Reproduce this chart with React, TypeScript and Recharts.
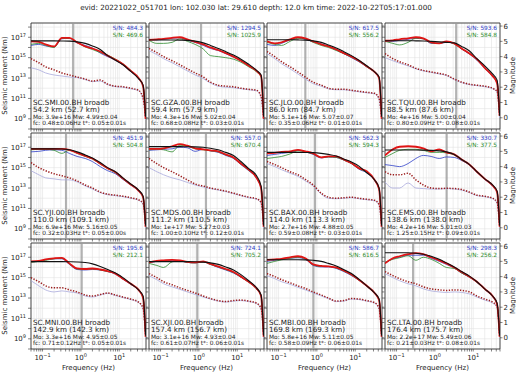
import React from 'react';
import { LineChart, Line, XAxis, YAxis, CartesianGrid, ReferenceLine, ReferenceArea } from 'recharts';

const FONT = '"DejaVu Sans", sans-serif';

const titleText = 'evid: 20221022_051701 lon: 102.030 lat: 29.610 depth: 12.0 km time: 2022-10-22T05:17:01.000';

const frequencies = [0.05, 0.08, 0.12, 0.2, 0.32, 0.5, 0.8, 1.3, 2, 3.2, 5, 8, 12.5, 20, 32, 42, 49];

const xTicks = [0.05, 0.06, 0.07, 0.08, 0.09, 0.1, 0.2, 0.3, 0.4, 0.5, 0.6, 0.7, 0.8, 0.9, 1, 2, 3, 4, 5, 6, 7, 8, 9, 10, 20, 30, 40, 50];
const xLabelExponents = [-1, 0, 1];
const momentTicks = [1e8, 1e9, 1e10, 1e11, 1e12, 1e13, 1e14, 1e15, 1e16, 1e17, 1e18];
const magnitudeTicks = [0, 1, 2, 3, 4, 5, 6];

const stationNames = [
  'SC.SMI.00.BH broadb', 'SC.GZA.00.BH broadb', 'SC.JLO.00.BH broadb', 'SC.TQU.00.BH broadb',
  'SC.YJI.00.BH broadb', 'SC.MDS.00.BH broadb', 'SC.BAX.00.BH broadb', 'SC.EMS.00.BH broadb',
  'SC.MNI.00.BH broadb', 'SC.XJI.00.BH broadb', 'SC.MBI.00.BH broadb', 'SC.LTA.00.BH broadb',
];
const distances = [
  '54.2 km (52.7 km)', '59.4 km (57.9 km)', '86.0 km (84.7 km)', '88.5 km (87.6 km)',
  '110.0 km (109.1 km)', '111.2 km (110.5 km)', '114.0 km (113.3 km)', '138.6 km (138.0 km)',
  '142.9 km (142.3 km)', '157.4 km (156.7 km)', '169.8 km (169.3 km)', '176.4 km (175.7 km)',
];
const momentLines = [
  'Mo: 3.9e+16 Mw: 4.99±0.04', 'Mo: 4.3e+16 Mw: 5.02±0.04', 'Mo: 5.1e+16 Mw: 5.07±0.07', 'Mo: 4e+16 Mw: 5.00±0.04',
  'Mo: 6.9e+16 Mw: 5.16±0.05', 'Mo: 1e+17 Mw: 5.27±0.03', 'Mo: 2.7e+16 Mw: 4.88±0.05', 'Mo: 4.2e+16 Mw: 5.01±0.03',
  'Mo: 3.3e+16 Mw: 4.95±0.05', 'Mo: 3.1e+16 Mw: 4.93±0.04', 'Mo: 5.8e+16 Mw: 5.11±0.05', 'Mo: 2.2e+17 Mw: 5.49±0.06',
];
const cornerLines = [
  'fc: 0.48±0.06Hz t*: 0.05±0.01s', 'fc: 0.68±0.08Hz t*: 0.03±0.01s', 'fc: 0.35±0.06Hz t*: 0.01±0.01s', 'fc: 0.80±0.09Hz t*: 0.08±0.01s',
  'fc: 0.32±0.03Hz t*: 0.05±0.00s', 'fc: 1.00±0.10Hz t*: 0.12±0.01s', 'fc: 0.59±0.08Hz t*: 0.03±0.01s', 'fc: 1.25±0.15Hz t*: 0.09±0.01s',
  'fc: 0.71±0.12Hz t*: 0.05±0.01s', 'fc: 0.61±0.07Hz t*: 0.06±0.01s', 'fc: 0.58±0.09Hz t*: 0.06±0.01s', 'fc: 0.21±0.03Hz t*: 0.08±0.01s',
];
const snrBlue = ['484.3', '1294.5', '617.5', '593.6', '451.9', '557.0', '562.3', '330.7', '195.6', '724.1', '586.7', '298.3'];
const snrGreen = ['469.6', '1025.9', '556.2', '584.8', '504.8', '670.4', '594.3', '377.5', '212.1', '705.2', '616.5', '256.2'];
const markerFreqs = [0.63, 1.14, 0.5, 3.6, 0.41, 1.53, 0.89, 2.03, 1.05, 0.91, 0.81, 0.27];

// log10 of seismic moment (Nm) at each frequency
const modelLog = [
  [16.65, 16.65, 16.65, 16.65, 16.64, 16.62, 16.55, 16.4, 16.15, 15.8, 15.2, 14.75, 14.3, 13.65, 12.95, 12.3, 9.2],
  [16.73, 16.73, 16.73, 16.73, 16.72, 16.7, 16.62, 16.45, 16.2, 15.9, 15.6, 15.25, 14.85, 14.35, 13.75, 13.3, 9.2],
  [16.75, 16.75, 16.75, 16.75, 16.74, 16.72, 16.65, 16.5, 16.25, 15.95, 15.6, 15.2, 14.75, 14.2, 13.6, 13.1, 9.2],
  [16.66, 16.66, 16.66, 16.66, 16.65, 16.64, 16.6, 16.55, 16.5, 16.45, 16.1, 15.65, 14.9, 14.2, 13.4, 12.8, 9.3],
  [16.84, 16.84, 16.84, 16.84, 16.83, 16.75, 16.55, 16.25, 15.95, 15.5, 15.0, 14.6, 14.0, 13.4, 12.8, 12.2, 9.3],
  [17.06, 17.06, 17.06, 17.06, 17.06, 17.05, 17.04, 17.0, 16.9, 16.75, 16.5, 16.2, 15.6, 14.9, 14.2, 13.2, 9.3],
  [16.5, 16.5, 16.5, 16.5, 16.5, 16.49, 16.47, 16.4, 16.3, 16.15, 15.85, 15.55, 15.15, 14.5, 13.8, 13.0, 9.3],
  [16.73, 16.73, 16.73, 16.73, 16.73, 16.72, 16.7, 16.65, 16.55, 16.3, 15.8, 15.3, 14.6, 13.9, 13.3, 12.7, 9.3],
  [16.57, 16.57, 16.57, 16.57, 16.57, 16.56, 16.54, 16.48, 16.35, 16.1, 15.8, 15.45, 15.0, 14.4, 13.8, 13.2, 9.3],
  [16.57, 16.57, 16.57, 16.57, 16.57, 16.57, 16.56, 16.52, 16.45, 16.3, 16.05, 15.75, 15.3, 14.7, 14.0, 13.3, 9.3],
  [16.75, 16.75, 16.75, 16.75, 16.75, 16.74, 16.7, 16.6, 16.4, 16.15, 15.8, 15.4, 14.85, 14.2, 13.5, 12.9, 9.3],
  [17.45, 17.45, 17.45, 17.44, 17.4, 17.3, 17.1, 16.8, 16.45, 16.05, 15.6, 15.15, 14.6, 13.9, 13.2, 12.5, 9.3],
];
const signalLog = [
  [16.6, 16.55, 16.3, 16.1, 16.95, 16.95, 16.5, 16.1, 15.9, 15.6, 15.2, 14.8, 14.35, 13.7, 13.0, 12.2, 9.0],
  [16.75, 16.8, 16.85, 16.95, 17.0, 16.8, 16.55, 16.3, 16.0, 15.75, 15.45, 15.1, 14.7, 14.2, 13.7, 13.2, 9.0],
  [16.6, 16.4, 16.5, 16.8, 17.0, 16.9, 16.6, 16.3, 16.1, 15.8, 15.45, 15.1, 14.7, 14.15, 13.6, 13.0, 9.0],
  [16.66, 16.7, 16.8, 16.9, 17.0, 16.9, 16.5, 16.4, 16.6, 16.4, 15.9, 15.4, 14.85, 14.0, 13.2, 12.5, 9.3],
  [16.85, 16.85, 16.85, 16.85, 16.85, 16.75, 16.45, 16.15, 15.9, 15.4, 14.95, 14.55, 13.95, 13.35, 12.75, 12.1, 9.2],
  [16.85, 16.85, 16.9, 17.1, 17.3, 17.15, 16.9, 16.8, 16.7, 16.6, 16.3, 16.0, 15.4, 14.8, 14.0, 13.0, 9.2],
  [16.4, 16.45, 16.55, 16.6, 16.75, 16.6, 16.4, 16.0, 16.1, 16.1, 15.8, 15.45, 14.95, 14.65, 13.8, 12.9, 9.2],
  [16.2, 16.8, 17.05, 17.1, 17.05, 16.9, 16.6, 16.8, 16.5, 16.3, 15.8, 15.3, 14.6, 13.9, 13.25, 12.6, 9.2],
  [16.6, 16.65, 16.8, 16.9, 16.95, 16.4, 15.9, 15.85, 15.9, 15.8, 15.65, 15.4, 14.9, 14.4, 13.8, 13.0, 9.2],
  [16.5, 16.65, 16.7, 16.75, 16.7, 16.55, 16.5, 16.6, 16.35, 16.1, 15.85, 15.55, 15.1, 14.6, 13.95, 13.2, 9.2],
  [16.75, 16.8, 16.85, 17.0, 17.1, 16.9, 16.3, 16.15, 16.1, 16.0, 15.7, 15.3, 14.8, 14.2, 13.5, 12.8, 9.2],
  [16.4, 16.9, 17.1, 17.3, 17.4, 17.3, 17.0, 16.7, 16.4, 16.0, 15.55, 15.1, 14.6, 13.9, 13.2, 12.4, 9.2],
];
const blueCompLog = [
  [16.2, 16.3, 16.15, 16.05, 16.85, 16.9, 16.45, 16.2, 15.95, 15.45, 15.1, 14.75, 14.3, 13.65, 12.95, 12.2, 9.0],
  [16.8, 16.75, 16.8, 16.9, 16.95, 16.7, 16.5, 16.2, 15.9, 15.7, 15.4, 15.05, 14.7, 14.2, 13.7, 13.2, 9.0],
  [16.3, 16.2, 16.4, 16.75, 16.95, 16.8, 16.55, 16.35, 16.1, 15.75, 15.4, 15.0, 14.6, 14.1, 13.55, 13.0, 9.0],
  [16.6, 16.6, 16.7, 16.8, 16.9, 16.85, 16.4, 16.4, 16.5, 16.4, 15.85, 15.35, 14.75, 13.95, 13.15, 12.5, 9.3],
  [16.55, 16.6, 16.7, 16.75, 16.7, 16.4, 16.1, 15.9, 15.6, 15.1, 14.7, 14.4, 13.85, 13.3, 12.7, 12.1, 9.2],
  [16.7, 16.75, 16.8, 16.85, 17.0, 16.95, 16.6, 16.8, 16.65, 16.5, 16.2, 15.9, 15.3, 14.7, 13.95, 13.0, 9.2],
  [16.2, 16.3, 16.4, 16.5, 16.7, 16.55, 16.3, 15.95, 16.05, 16.0, 15.75, 15.4, 14.85, 14.5, 13.75, 12.9, 9.2],
  [15.3, 15.2, 15.1, 15.4, 15.9, 16.2, 16.1, 15.9, 16.05, 16.0, 15.7, 15.25, 14.55, 13.85, 13.2, 12.6, 9.2],
  [16.55, 16.6, 16.75, 16.85, 16.85, 16.3, 15.8, 15.75, 15.8, 15.75, 15.6, 15.35, 14.85, 14.35, 13.75, 13.0, 9.2],
  [16.45, 16.6, 16.65, 16.7, 16.65, 16.5, 16.45, 16.55, 16.3, 16.0, 15.75, 15.45, 15.05, 14.55, 13.9, 13.2, 9.2],
  [16.6, 16.7, 16.8, 16.9, 16.95, 16.8, 16.2, 16.05, 16.05, 15.9, 15.6, 15.2, 14.75, 14.15, 13.45, 12.8, 9.2],
  [16.4, 16.85, 17.0, 17.2, 17.2, 17.2, 16.9, 16.6, 16.3, 15.95, 15.45, 15.05, 14.55, 13.85, 13.15, 12.4, 9.2],
];
const greenCompLog = [
  [16.3, 16.4, 16.2, 16.0, 16.9, 16.9, 16.5, 16.05, 15.8, 15.5, 15.25, 14.85, 14.4, 13.75, 13.0, 12.2, 9.0],
  [16.7, 16.4, 16.4, 16.5, 16.85, 16.6, 16.3, 15.85, 15.2, 15.1, 15.0, 14.85, 14.55, 14.1, 13.6, 13.1, 9.0],
  [16.5, 16.3, 16.2, 16.6, 16.9, 16.85, 16.5, 16.2, 16.0, 15.7, 15.4, 15.05, 14.65, 14.1, 13.55, 13.0, 9.0],
  [16.6, 16.4, 16.25, 16.5, 16.9, 16.85, 16.45, 16.4, 16.55, 16.35, 15.85, 15.4, 14.8, 14.0, 13.2, 12.5, 9.3],
  [16.75, 16.8, 16.8, 16.7, 16.4, 16.7, 16.4, 16.1, 15.85, 15.35, 14.9, 14.5, 13.9, 13.35, 12.75, 12.1, 9.2],
  [16.75, 16.8, 16.75, 16.55, 17.2, 17.1, 16.85, 16.75, 16.65, 16.55, 16.25, 15.95, 15.35, 14.75, 14.0, 13.0, 9.2],
  [15.9, 16.0, 16.1, 16.35, 16.65, 16.55, 16.35, 16.0, 16.05, 16.0, 15.75, 15.4, 14.9, 14.55, 13.75, 12.9, 9.2],
  [16.0, 16.4, 16.7, 16.8, 16.8, 16.7, 16.5, 16.5, 16.45, 16.25, 15.75, 15.3, 14.6, 13.9, 13.25, 12.6, 9.2],
  [16.5, 16.6, 16.7, 16.85, 16.9, 16.35, 15.85, 15.8, 15.85, 15.75, 15.6, 15.4, 14.9, 14.4, 13.8, 13.0, 9.2],
  [16.4, 16.2, 16.0, 16.55, 16.65, 16.5, 16.45, 16.55, 16.3, 16.05, 15.8, 15.5, 15.05, 14.55, 13.9, 13.2, 9.2],
  [16.4, 16.6, 16.75, 16.9, 17.0, 16.85, 16.25, 16.1, 16.1, 15.95, 15.65, 15.25, 14.75, 14.15, 13.45, 12.8, 9.2],
  [16.5, 16.8, 16.95, 17.15, 16.7, 17.0, 16.8, 16.4, 16.0, 15.9, 15.45, 15.05, 14.55, 13.85, 13.2, 12.4, 9.2],
];
const noiseLog = [
  [14.9, 14.5, 14.1, 13.8, 13.5, 13.3, 13.1, 12.9, 12.7, 12.8, 12.4, 12.2, 12.15, 12.0, 11.8, 11.0, 9.0],
  [15.9, 15.5, 15.1, 14.7, 14.3, 13.9, 13.5, 13.1, 12.6, 12.3, 12.2, 12.15, 12.0, 11.9, 11.8, 11.2, 9.0],
  [15.6, 15.1, 14.6, 14.1, 13.6, 13.1, 12.6, 12.3, 12.0, 11.9, 11.9, 11.8, 11.7, 11.6, 11.5, 11.0, 9.0],
  [15.4, 14.9, 14.6, 14.3, 13.95, 13.75, 13.6, 13.45, 13.3, 12.9, 12.6, 12.4, 12.3, 12.2, 12.0, 11.7, 9.2],
  [15.5, 15.0, 14.7, 14.4, 14.2, 14.0, 13.7, 13.3, 13.0, 12.6, 12.4, 12.3, 12.2, 12.05, 11.85, 11.5, 9.2],
  [15.9, 15.4, 15.0, 14.6, 14.2, 13.8, 13.4, 13.2, 13.0, 12.85, 12.7, 12.5, 12.3, 12.1, 11.95, 11.6, 9.2],
  [15.6, 15.3, 15.0, 14.6, 14.3, 13.85, 13.3, 12.5, 12.1, 12.0, 12.05, 12.1, 12.0, 11.9, 11.8, 11.4, 9.2],
  [14.6, 14.3, 14.3, 14.45, 13.8, 13.3, 13.0, 12.95, 12.97, 12.95, 12.85, 12.6, 12.3, 12.2, 12.0, 11.6, 9.2],
  [15.0, 14.6, 14.2, 14.0, 14.0, 13.8, 13.6, 13.3, 13.2, 13.35, 13.5, 13.3, 13.1, 12.9, 12.6, 12.0, 9.2],
  [15.4, 15.0, 14.6, 14.3, 14.0, 13.75, 13.5, 13.2, 12.95, 12.75, 12.65, 12.75, 12.8, 12.7, 12.5, 12.0, 9.2],
  [15.4, 15.1, 14.8, 14.5, 14.2, 13.95, 13.6, 13.3, 13.0, 12.7, 12.75, 12.95, 12.9, 12.75, 12.55, 12.0, 9.2],
  [15.6, 15.2, 14.9, 14.6, 14.4, 14.1, 13.9, 13.8, 13.75, 13.8, 13.75, 13.6, 13.2, 12.9, 12.6, 12.2, 9.2],
];
const noiseCompLog = [
  [14.0, 13.8, 13.5, 13.3, 13.2, 13.1, 13.05, 12.85, 12.65, 12.7, 12.35, 12.15, 12.1, 11.95, 11.75, 10.95, 8.9],
  [15.7, 15.3, 14.9, 14.5, 14.1, 13.7, 13.3, 12.95, 12.5, 12.2, 12.1, 12.05, 11.95, 11.85, 11.75, 11.1, 8.9],
  [15.4, 14.9, 14.4, 13.9, 13.4, 12.9, 12.45, 12.2, 11.95, 11.85, 11.85, 11.75, 11.65, 11.55, 11.45, 10.9, 8.9],
  [15.0, 14.7, 14.45, 14.2, 13.9, 13.7, 13.55, 13.4, 13.25, 12.85, 12.55, 12.35, 12.25, 12.15, 11.95, 11.6, 9.1],
  [14.7, 14.3, 14.0, 13.9, 13.8, 13.8, 13.6, 13.2, 12.9, 12.55, 12.35, 12.25, 12.15, 12.0, 11.8, 11.4, 9.1],
  [15.0, 14.6, 14.3, 14.0, 13.8, 13.55, 13.3, 13.1, 12.95, 12.8, 12.65, 12.45, 12.25, 12.05, 11.9, 11.5, 9.1],
  [15.4, 15.1, 14.8, 14.45, 14.15, 13.7, 13.2, 12.4, 12.0, 11.95, 12.0, 12.05, 11.95, 11.85, 11.75, 11.3, 9.1],
  [13.6, 13.0, 13.0, 13.5, 13.0, 12.95, 12.9, 12.9, 12.95, 12.9, 12.8, 12.55, 12.25, 12.15, 11.95, 11.5, 9.1],
  [14.7, 14.2, 13.8, 13.6, 13.7, 13.6, 13.5, 13.2, 13.1, 13.3, 13.45, 13.25, 13.05, 12.85, 12.55, 11.9, 9.1],
  [15.2, 14.8, 14.4, 14.1, 13.85, 13.6, 13.35, 13.1, 12.9, 12.7, 12.6, 12.7, 12.75, 12.65, 12.45, 11.9, 9.1],
  [15.2, 14.9, 14.6, 14.35, 14.05, 13.8, 13.5, 13.2, 12.95, 12.65, 12.7, 12.9, 12.85, 12.7, 12.5, 11.9, 9.1],
  [15.4, 15.0, 14.7, 14.4, 14.2, 13.9, 13.7, 13.6, 13.55, 13.6, 13.55, 13.4, 13.1, 12.8, 12.5, 12.1, 9.1],
];

// layout
const COL_X = [31, 149, 267, 385];
const ROW_Y = [22.5, 132.5, 242.5];
const BOX_W = 115;
const BOX_H = 106;
const PAD_L = 30;
const PAD_R = 18;
const PAD_T = 2;
const PAD_B = 26;
const LOG_MIN = 8.0;
const LOG_MAX = 18.4;
const MW_MIN = (2 / 3) * (LOG_MIN - 9.1);
const MW_MAX = (2 / 3) * (LOG_MAX - 9.1);

const supText = (e: number) => (e < 0 ? '\u2212' + String(-e) : String(e));

const makeYTick = (show: boolean) => (props: any) => {
  const { x, y, payload } = props;
  const e = Math.round(Math.log10(payload.value));
  if (!show || e % 2 === 0) return <g />;
  return (
    <text x={x} y={y + 2.5} textAnchor="end" fontSize={7} fill="#222" fontFamily={FONT}>
      10<tspan fontSize={5} dy={-3.2}>{supText(e)}</tspan>
    </text>
  );
};

const makeXTick = (show: boolean) => (props: any) => {
  const { x, y, payload } = props;
  const lg = Math.log10(payload.value);
  const e = Math.round(lg);
  if (!show || Math.abs(lg - e) > 1e-6 || !xLabelExponents.includes(e)) return <g />;
  return (
    <text x={x} y={y + 6.5} textAnchor="middle" fontSize={7} fill="#222" fontFamily={FONT}>
      10<tspan fontSize={5} dy={-3.2}>{supText(e)}</tspan>
    </text>
  );
};

const makeMwTick = (show: boolean) => (props: any) => {
  const { x, y, payload } = props;
  if (!show) return <g />;
  return (
    <text x={x} y={y + 2.5} textAnchor="start" fontSize={7} fill="#222" fontFamily={FONT}>
      {payload.value}
    </text>
  );
};

function Panel({ i }: { i: number }) {
  const col = i % 4;
  const row = Math.floor(i / 4);
  const data = frequencies.map((f, k) => ({
    f,
    model: Math.pow(10, modelLog[i][k]),
    sig: Math.pow(10, signalLog[i][k]),
    blue: Math.pow(10, blueCompLog[i][k]),
    green: Math.pow(10, greenCompLog[i][k]),
    noise: Math.pow(10, noiseLog[i][k]),
    noiseC: Math.pow(10, noiseCompLog[i][k]),
  }));
  return (
    <div style={{ position: 'absolute', left: COL_X[col] - PAD_L, top: ROW_Y[row] - PAD_T }}>
      <LineChart
        width={BOX_W + PAD_L + PAD_R}
        height={BOX_H + PAD_T + PAD_B}
        data={data}
        margin={{ top: PAD_T, right: 0, bottom: 0, left: 0 }}
        style={{ overflow: 'visible' }}
      >
        <CartesianGrid stroke="#e3e3e3" strokeWidth={0.6} />
        <XAxis
          dataKey="f"
          type="number"
          scale="log"
          domain={[0.05, 50]}
          allowDataOverflow
          ticks={xTicks}
          interval={0}
          height={PAD_B}
          tickSize={2.5}
          tickLine={{ stroke: '#333', strokeWidth: 0.6 }}
          axisLine={false}
          tick={makeXTick(row === 2)}
        />
        <YAxis
          type="number"
          scale="log"
          domain={[Math.pow(10, LOG_MIN), Math.pow(10, LOG_MAX)]}
          allowDataOverflow
          ticks={momentTicks}
          interval={0}
          width={PAD_L}
          tickSize={3}
          tickLine={{ stroke: '#333', strokeWidth: 0.6 }}
          axisLine={false}
          tick={makeYTick(col === 0)}
        />
        <YAxis
          yAxisId="mw"
          orientation="right"
          type="number"
          domain={[MW_MIN, MW_MAX]}
          allowDataOverflow
          ticks={magnitudeTicks}
          interval={0}
          width={PAD_R}
          tickSize={2.5}
          tickMargin={1}
          tickLine={{ stroke: '#333', strokeWidth: 0.6 }}
          axisLine={false}
          tick={makeMwTick(col === 3)}
        />
        <ReferenceLine x={markerFreqs[i]} stroke="#9a9a9a" strokeWidth={2.2} strokeOpacity={0.75} />
        <Line dataKey="noiseC" type="monotone" stroke="#a9a9dc" strokeWidth={0.8} dot={false} isAnimationActive={false} />
        <Line dataKey="noise" type="monotone" stroke="#9b1c1c" strokeWidth={1.5} strokeDasharray="1.3 1.5" dot={false} isAnimationActive={false} />
        <Line dataKey="blue" type="monotone" stroke="#3040c8" strokeWidth={0.8} dot={false} isAnimationActive={false} />
        <Line dataKey="green" type="monotone" stroke="#2e8b2e" strokeWidth={0.8} dot={false} isAnimationActive={false} />
        <Line dataKey="sig" type="monotone" stroke="#e01515" strokeWidth={1.8} dot={false} isAnimationActive={false} />
        <Line dataKey="model" type="monotone" stroke="#111" strokeWidth={1.1} dot={false} isAnimationActive={false} />
        <ReferenceArea
          x1={0.05}
          x2={50}
          y1={Math.pow(10, LOG_MIN)}
          y2={Math.pow(10, LOG_MAX)}
          fill="none"
          fillOpacity={0}
          stroke="#222"
          strokeWidth={0.8}
          ifOverflow="visible"
        />
      </LineChart>
    </div>
  );
}

function Overlay() {
  const items: any[] = [];
  for (let i = 0; i < 12; i++) {
    const col = i % 4;
    const row = Math.floor(i / 4);
    const x0 = COL_X[col];
    const y0 = ROW_Y[row];
    items.push(
      <g key={'p' + i}>
        <text x={x0 + BOX_W - 3} y={y0 + 7.8} textAnchor="end" fontSize={5.8} fill="#3040c8">S/N: {snrBlue[i]}</text>
        <text x={x0 + BOX_W - 3} y={y0 + 14.2} textAnchor="end" fontSize={5.8} fill="#2e8b2e">S/N: {snrGreen[i]}</text>
        <text x={x0 + 2} y={y0 + 82} fontSize={7.2} fill="#222">{stationNames[i]}</text>
        <text x={x0 + 2} y={y0 + 89.5} fontSize={7.2} fill="#222">{distances[i]}</text>
        <text x={x0 + 2} y={y0 + 96} fontSize={5.9} fill="#222">{momentLines[i]}</text>
        <text x={x0 + 2} y={y0 + 102.5} fontSize={5.9} fill="#222">{cornerLines[i]}</text>
      </g>
    );
  }
  for (let r = 0; r < 3; r++) {
    const cy = ROW_Y[r] + BOX_H / 2;
    items.push(
      <text key={'yl' + r} x={0} y={0} transform={`translate(6.5, ${cy}) rotate(-90)`} textAnchor="middle" fontSize={7} fill="#222">
        Seismic moment (Nm)
      </text>
    );
    items.push(
      <text key={'ml' + r} x={0} y={0} transform={`translate(514.5, ${cy}) rotate(-90)`} textAnchor="middle" fontSize={7} fill="#222">
        Magnitude
      </text>
    );
  }
  for (let c = 0; c < 4; c++) {
    items.push(
      <text key={'xl' + c} x={COL_X[c] + BOX_W / 2} y={370} textAnchor="middle" fontSize={7} fill="#222">
        Frequency (Hz)
      </text>
    );
  }
  return (
    <svg width={516} height={376} style={{ position: 'absolute', left: 0, top: 0, pointerEvents: 'none' }} fontFamily={FONT}>
      <text x={256} y={9.5} textAnchor="middle" fontSize={7.2} fill="#222">{titleText}</text>
      {items}
    </svg>
  );
}

export default function App() {
  return (
    <div style={{ position: 'absolute', left: 0, top: 0, width: 516, height: 376, background: '#fff', fontFamily: FONT, overflow: 'hidden' }}>
      {Array.from({ length: 12 }, (_, i) => (
        <Panel key={i} i={i} />
      ))}
      <Overlay />
    </div>
  );
}
